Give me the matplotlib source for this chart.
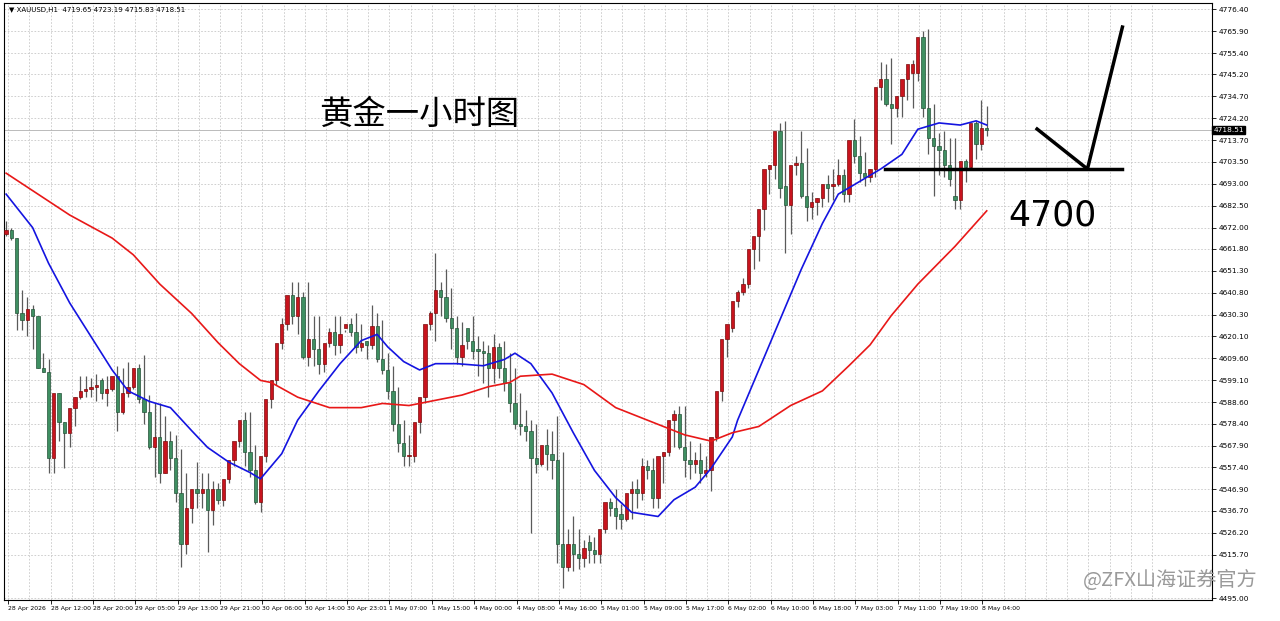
import matplotlib
matplotlib.use("Agg")
import matplotlib.pyplot as plt
import numpy as np

# OHLC (hourly)
opens = [4669,4671,4667,4631,4628,4633,4630,4605,4603,4562,4593,4579,4574,4586,4591,4594,4595,4596,4599,4593,
         4595,4601,4584,4593,4596,4605,4590,4584,4567,4572,4555,4570,4562,4545,4521,4538,4547,4545,4547,4537,
         4547,4542,4552,4561,4570,4580,4565,4556,4541,4563,4590,4599,4617,4626,4640,4630,4639,4610,4619,4614,
         4607,4617,4622,4616,4624,4626,4622,4615,4618,4616,4625,4609,4604,4594,4578,4569,4563,4563,4579,4591,
         4626,4631,4642,4639,4629,4624,4610,4624,4618,4614,4613,4612,4605,4615,4605,4598,4588,4578,4577,4575,
         4562,4559,4568,4564,4561,4521,4510,4521,4516,4514,4522,4518,4516,4528,4541,4538,4535,4533,4545,4547,
         4545,4558,4556,4543,4563,4565,4580,4583,4567,4561,4559,4561,4555,4556,4572,4594,4619,4624,4637,4641,
         4645,4662,4668,4681,4700,4702,4718,4692,4683,4702,4703,4687,4682,4684,4686,4693,4692,4693,4697,4688,
         4714,4706,4698,4696,4700,4739,4743,4731,4729,4735,4743,4746,4746,4763,4729,4715,4711,4709,4702,4687,
         4685,4704,4701,4722,4712,4719.65]
highs = [4675,4672,4667,4642,4639,4635,4630,4612,4609,4562,4593,4579,4574,4591,4601,4601,4600,4602,4600,4601,
         4597,4606,4605,4608,4603,4607,4611,4592,4588,4588,4582,4575,4573,4566,4555,4542,4560,4555,4555,4551,
         4550,4550,4554,4564,4574,4584,4584,4568,4558,4570,4592,4605,4629,4630,4646,4646,4641,4646,4630,4630,
         4616,4624,4630,4630,4623,4629,4631,4626,4618,4635,4631,4628,4612,4606,4596,4580,4573,4573,4583,4594,
         4632,4660,4646,4652,4643,4630,4627,4618,4630,4620,4618,4616,4621,4617,4618,4612,4605,4593,4585,4580,
         4578,4566,4576,4575,4582,4565,4528,4534,4528,4523,4525,4524,4521,4530,4543,4547,4540,4537,4551,4552,
         4562,4561,4562,4560,4565,4577,4585,4587,4587,4570,4565,4569,4563,4560,4581,4597,4620,4630,4642,4648,
         4650,4665,4670,4686,4702,4708,4722,4723,4694,4706,4718,4710,4689,4686,4692,4697,4700,4705,4700,4702,
         4724,4716,4708,4700,4705,4751,4750,4753,4735,4738,4746,4752,4762,4766,4767,4731,4717,4718,4715,4715,
         4699,4705,4711,4723,4733,4730,4723.19]
lows = [4668,4666,4623,4623,4620,4614,4605,4603,4555,4555,4570,4557,4567,4577,4590,4591,4591,4589,4590,4587,
        4594,4575,4583,4591,4595,4588,4578,4566,4553,4550,4555,4556,4541,4510,4516,4531,4538,4538,4517,4530,
        4540,4539,4550,4558,4567,4558,4553,4540,4536,4560,4586,4597,4614,4623,4626,4621,4609,4606,4606,4602,
        4603,4615,4611,4612,4622,4620,4612,4613,4609,4614,4608,4602,4590,4575,4565,4558,4558,4560,4574,4588,
        4623,4618,4630,4627,4614,4607,4606,4614,4609,4601,4598,4591,4598,4600,4594,4584,4576,4573,4570,4526,
        4555,4558,4556,4552,4512,4500,4508,4508,4509,4510,4512,4512,4512,4526,4534,4528,4528,4532,4533,4538,
        4542,4552,4538,4538,4550,4563,4567,4566,4553,4552,4555,4550,4553,4546,4570,4589,4610,4622,4634,4640,
        4643,4652,4656,4671,4688,4695,4686,4660,4669,4697,4686,4675,4676,4678,4682,4684,4685,4692,4684,4684,
        4703,4694,4692,4694,4696,4733,4730,4712,4725,4725,4733,4729,4742,4725,4707,4687,4697,4696,4692,4681,
        4681,4694,4700,4705,4709,4715.83]
closes = opens[1:] + [4718.51]
# closes that differ from the next bar's open (gaps), as read
closes_read = {17: 4596, 63: 4621, 67: 4617, 86: 4616, 88: 4613, 89: 4613, 104: 4521, 108: 4514, 109: 4519,
               110: 4518, 111: 4516, 115: 4534, 116: 4533, 129: 4559, 132: 4556, 136: 4626, 146: 4691,
               155: 4691, 170: 4750, 171: 4750, 178: 4695}
for k, v in closes_read.items():
    closes[k] = v

# moving averages (bar index, value)
ma_fast_bars = [0,5,8,12,16,20,23,27,31,35,38,42,46,48,52,55,59,63,67,70,72,75,78,81,85,90,94,96,99,103,107,
                111,115,118,123,126,130,133,137,138,146,150,154,157,161,165,169,172,176,180,183,185]
ma_fast = [4688,4672,4655,4636,4620,4604,4594,4589,4586,4575,4567,4560,4555,4552,4564,4580,4594,4607,4618,4621,
           4615,4608,4604,4607,4607,4606,4609,4612,4607,4593,4574,4556,4543,4536,4534,4542,4548,4557,4572,4580,
           4628,4652,4674,4688,4694,4700,4707,4719,4722,4721,4723,4721]
ma_slow_bars = [0,6,12,20,24,29,35,40,44,48,50,55,61,67,71,76,80,86,91,95,97,103,109,115,122,128,133,137,142,
                148,154,159,163,167,172,179,185]
ma_slow = [4698,4688,4678,4667,4659,4645,4631,4617,4607,4599,4598,4591,4586,4586,4588,4587,4589,4592,4596,4598,
           4601,4602,4597,4586,4579,4573,4570,4574,4577,4587,4594,4606,4616,4630,4645,4663,4680]

y_ticks = [4776.40,4765.90,4755.40,4745.20,4734.70,4724.20,4713.70,4703.50,4693.00,4682.50,4672.00,4661.80,
           4651.30,4640.80,4630.30,4620.10,4609.60,4599.10,4588.60,4578.40,4567.90,4557.40,4546.90,4536.70,
           4526.20,4515.70,4495.00]
x_labels = ["28 Apr 2026","28 Apr 12:00","28 Apr 20:00","29 Apr 05:00","29 Apr 13:00","29 Apr 21:00",
            "30 Apr 06:00","30 Apr 14:00","30 Apr 23:01","1 May 07:00","1 May 15:00","4 May 00:00",
            "4 May 08:00","4 May 16:00","5 May 01:00","5 May 09:00","5 May 17:00","6 May 02:00",
            "6 May 10:00","6 May 18:00","7 May 03:00","7 May 11:00","7 May 19:00","8 May 04:00"]
last_price = 4718.51
level = 4700

plt.rcParams['font.family'] = ['Noto Sans CJK SC', 'DejaVu Sans']
fig = plt.figure(figsize=(12.8, 6.21), dpi=100)
ax = fig.add_axes([4/1280, 21/621, 1208/1280, 597/621])
n = len(opens)
UP, DN = '#c8141e', '#3f8f62'
for i in range(n):
    o, h, l, c = opens[i], highs[i], lows[i], closes[i]
    up = c >= o
    ax.vlines(i, l, h, color='#5a5a5a', lw=0.9, zorder=2)
    ax.bar(i, max(abs(c - o), 0.6), bottom=min(o, c), width=0.62,
           color=UP if up else DN, edgecolor='#7a0a0a' if up else '#245238', lw=0.5, zorder=3)
ax.plot(ma_fast_bars, ma_fast, color='#1414e0', lw=1.2, zorder=4)
ax.plot(ma_slow_bars, ma_slow, color='#e81818', lw=1.2, zorder=4)

ax.set_xlim(-0.4, 227.5)
ax.set_ylim(4494.1, 4779.3)
ax.yaxis.tick_right()
ax.set_yticks(y_ticks)
ax.set_yticklabels([f"{v:.2f}" for v in y_ticks], fontsize=5.3, family='DejaVu Sans')
tpos = np.linspace(0.4, 184.2, len(x_labels))
ax.set_xticks(tpos)
ax.set_xticklabels(x_labels, fontsize=4.4, ha='left', family='DejaVu Sans')
ax.tick_params(length=3, width=0.6, pad=1.5)
ax.grid(False)
for v in y_ticks:
    ax.axhline(v, color='#c8c8c8', lw=0.6, ls=(0, (2, 2)), zorder=0)
for v in np.linspace(0.4, 0.4 + (tpos[1] - tpos[0]) * 27, 55):
    ax.axvline(v, color='#c8c8c8', lw=0.6, ls=(0, (2, 2)), zorder=0)
for s in ax.spines.values():
    s.set_linewidth(0.8)
ax.axhline(last_price, color='#b0b0b0', lw=0.6, zorder=1)
ax.text(1.001, last_price, f"{last_price:.2f}", transform=ax.get_yaxis_transform(), fontsize=5.3,
        color='white', va='center', ha='left', family='DejaVu Sans',
        bbox=dict(boxstyle='square,pad=0.15', fc='black', ec='black'))

# annotations
ax.plot([165.8, 210.6], [level, level], color='black', lw=2.5, zorder=5)
ax.plot([194.5, 204, 210.6], [4719.1, level, 4767.8], color='black', lw=2.5, zorder=5)
ax.text(197.4, 4678, str(level), fontsize=25, ha='center', va='center', family='DejaVu Sans',
        fontweight='medium')
ax.text(78, 4726, "黄金一小时图", fontsize=24, ha='center', va='center', fontweight='medium')
ax.text(0.004, 0.993, "▼ XAUUSD,H1  4719.65 4723.19 4715.83 4718.51", transform=ax.transAxes,
        fontsize=5, va='top', ha='left', family='DejaVu Sans')
fig.text(1170/1280, 1 - 580/621, "@ZFX山海证券官方", fontsize=14.5, color='#9a9a9a', ha='center', va='center')
fig.savefig("out.png", dpi=100)
